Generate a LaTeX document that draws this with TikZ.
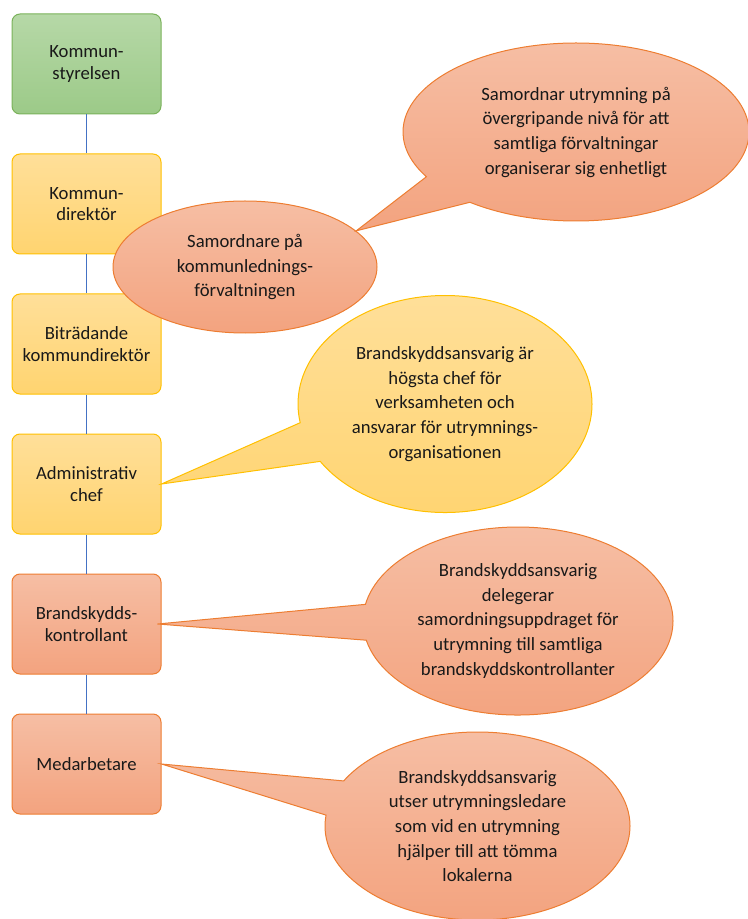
\documentclass[tikz,border=0pt]{standalone}
\usepackage{fontspec}
\setmainfont{Carlito}
\usepackage{xcolor}
\usetikzlibrary{shapes.geometric,shapes.callouts}
\definecolor{grntop}{RGB}{182,216,167}
\definecolor{grnbot}{RGB}{156,202,136}
\definecolor{grnline}{RGB}{122,178,90}
\definecolor{yeltop}{RGB}{255,223,153}
\definecolor{yelbot}{RGB}{255,212,112}
\definecolor{yelline}{RGB}{255,192,0}
\definecolor{orgtop}{RGB}{246,190,164}
\definecolor{orgbot}{RGB}{243,163,127}
\definecolor{orgline}{RGB}{237,125,49}
\definecolor{linkblue}{RGB}{68,114,196}
\definecolor{txtgray}{RGB}{25,25,25}
\tikzset{
  box/.style={rectangle,rounded corners=6pt,minimum width=111.75pt,minimum height=75pt,
    align=center,inner sep=0pt,line width=0.75pt,text=txtgray,font=\fontsize{14}{16.3}\selectfont},
  greenbox/.style={box,draw=grnline,top color=grntop,bottom color=grnbot},
  yellowbox/.style={box,draw=yelline,top color=yeltop,bottom color=yelbot},
  orangebox/.style={box,draw=orgline,top color=orgtop,bottom color=orgbot},
  bubble/.style={ellipse callout,callout pointer arc=22,align=center,inner sep=0pt,
    line width=0.75pt,text=txtgray,font=\fontsize{14}{18.5}\selectfont},
  orangebubble/.style={bubble,draw=orgline,top color=orgtop,bottom color=orgbot},
  yellowbubble/.style={bubble,draw=yelline,top color=yeltop,bottom color=yelbot},
  link/.style={draw=linkblue,line width=0.9pt}
}

\begin{document}
\begin{tikzpicture}[x=0.75pt,y=-0.75pt]
  \useasboundingbox (0,0) rectangle (748,919);

  \node [greenbox]  (styr) at (86.5,64)  {Kommun-\\styrelsen};
  \node [yellowbox] (kdir) at (86.5,204) {Kommun-\\direktör};
  \node [yellowbox] (bitr) at (86.5,344) {Biträdande\\kommundirektör};
  \node [yellowbox] (adm)  at (86.5,484) {Administrativ\\chef};
  \node [orangebox] (bkon) at (86.5,624) {Brandskydds-\\kontrollant};
  \node [orangebox] (medarb) at (86.5,764) {Medarbetare};

  \draw [link] (styr) -- (kdir);
  \draw [link] (kdir) -- (bitr);
  \draw [link] (bitr) -- (adm);
  \draw [link] (adm) -- (bkon);
  \draw [link] (bkon) -- (medarb);

  \node [ellipse,draw=orgline,top color=orgtop,bottom color=orgbot,line width=0.75pt,
    inner sep=0pt,minimum width=198pt,minimum height=99pt,align=center,text=txtgray,
    font=\fontsize{14}{18.5}\selectfont] (samo) at (245,267)
    {Samordnare på\\kommunlednings-\\förvaltningen};

  \node [orangebubble,minimum width=259.5pt,minimum height=133.5pt,
    callout absolute pointer={(samo.18)}] (overgr) at (576,132)
    {Samordnar utrymning på\\övergripande nivå för att\\samtliga förvaltningar\\organiserar sig enhetligt};

  \node [yellowbubble,minimum width=220.5pt,minimum height=162.75pt,
    callout absolute pointer={(adm.east)}] (hogsta) at (445,404)
    {Brandskyddsansvarig är\\högsta chef för\\verksamheten och\\ansvarar för utrymnings-\\organisationen};

  \node [orangebubble,minimum width=232.5pt,minimum height=141pt,
    callout absolute pointer={([xshift=-3pt]bkon.east)}] (deleg) at (518,621)
    {Brandskyddsansvarig\\delegerar\\samordningsuppdraget för\\utrymning till samtliga\\brandskyddskontrollanter};

  \node [orangebubble,minimum width=228.75pt,minimum height=141pt,
    callout absolute pointer={(medarb.east)}] (utser) at (477.5,826)
    {Brandskyddsansvarig\\utser utrymningsledare\\som vid en utrymning\\hjälper till att tömma\\lokalerna};
\end{tikzpicture}
\end{document}
